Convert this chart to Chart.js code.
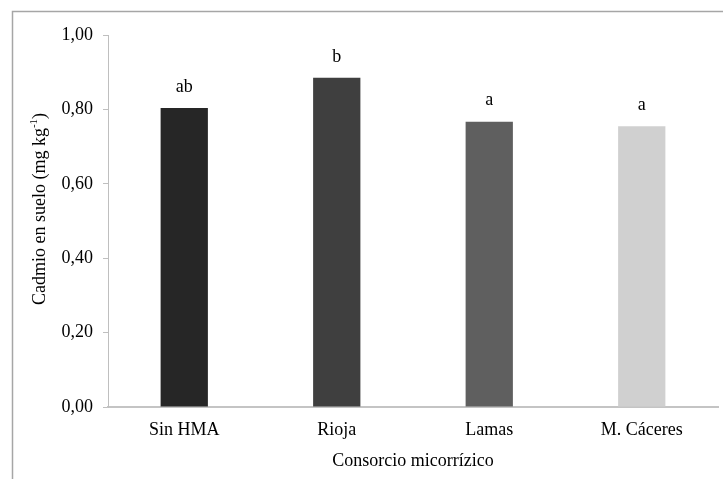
<!DOCTYPE html>
<html>
<head>
<meta charset="utf-8">
<script src="https://cdn.jsdelivr.net/npm/chart.js@4.4.1/dist/chart.umd.min.js"></script>
<style>
  html, body { margin: 0; padding: 0; background: #ffffff; }
  #wrap { width: 723px; height: 479px; position: relative; }
</style>
</head>
<body>
<div id="wrap"><canvas id="c" width="723" height="479"></canvas></div>
<script>
// Soil cadmium by mycorrhizal consortium
const categories = ['Sin HMA', 'Rioja', 'Lamas', 'M. Cáceres'];
const cadmium = [0.804, 0.885, 0.767, 0.755];
const letters = ['ab', 'b', 'a', 'a'];
const barColors = ['#262626', '#3f3f3f', '#5f5f5f', '#d0d0d0'];
const yTicks = [0, 0.2, 0.4, 0.6, 0.8, 1.0];
const yTitleParts = ['Cadmio en suelo (mg kg', '-1', ')'];

const serif = '"Liberation Serif", "Times New Roman", serif';

// Light gray frame around the figure
const framePlugin = {
  id: 'frame',
  beforeDraw(chart) {
    const ctx = chart.ctx;
    ctx.save();
    ctx.fillStyle = '#ffffff';
    ctx.fillRect(0, 0, chart.width, chart.height);
    ctx.strokeStyle = '#a6a6a6';
    ctx.lineWidth = 1.5;
    ctx.strokeRect(12.5, 11.5, 760, 520);
    ctx.restore();
  }
};

// Significance letters above each bar
const letterPlugin = {
  id: 'letters',
  afterDatasetsDraw(chart) {
    const ctx = chart.ctx;
    const meta = chart.getDatasetMeta(0);
    ctx.save();
    ctx.fillStyle = '#000000';
    ctx.font = '18px ' + serif;
    ctx.textAlign = 'center';
    ctx.textBaseline = 'middle';
    meta.data.forEach((bar, i) => {
      ctx.fillText(letters[i], bar.x, bar.y - 21);
    });
    ctx.restore();
  }
};

// Rotated y-axis title with a superscript exponent
const yTitlePlugin = {
  id: 'yTitle',
  afterDraw(chart) {
    const ctx = chart.ctx;
    const area = chart.chartArea;
    const big = '18px ' + serif;
    const small = '11px ' + serif;
    ctx.save();
    ctx.font = big;
    const w0 = ctx.measureText(yTitleParts[0]).width;
    const w2 = ctx.measureText(yTitleParts[2]).width;
    ctx.font = small;
    const w1 = ctx.measureText(yTitleParts[1]).width;
    const total = w0 + w1 + w2;
    const cx = 40;
    const cy = (area.top + area.bottom) / 2 - 12;
    ctx.translate(cx, cy);
    ctx.rotate(-Math.PI / 2);
    ctx.fillStyle = '#000000';
    ctx.textBaseline = 'middle';
    ctx.textAlign = 'left';
    let x = -total / 2;
    ctx.font = big;
    ctx.fillText(yTitleParts[0], x, 0);
    x += w0;
    ctx.font = small;
    ctx.fillText(yTitleParts[1], x, -6);
    x += w1;
    ctx.font = big;
    ctx.fillText(yTitleParts[2], x, 0);
    ctx.restore();
  }
};

new Chart(document.getElementById('c'), {
  type: 'bar',
  data: {
    labels: categories,
    datasets: [{
      data: cadmium,
      backgroundColor: barColors,
      borderWidth: 0,
      categoryPercentage: 1.0,
      barPercentage: 0.31
    }]
  },
  options: {
    responsive: false,
    animation: false,
    devicePixelRatio: 1,
    layout: { padding: { top: 35, right: 5, bottom: 0, left: 0 } },
    plugins: { legend: { display: false }, tooltip: { enabled: false } },
    scales: {
      x: {
        grid: { display: true, drawOnChartArea: false, drawTicks: false, color: 'rgba(0,0,0,0)' },
        border: { display: true, color: '#c4c4c4', width: 2 },
        ticks: { color: '#000000', font: { family: serif, size: 18 }, padding: 12 },
        title: {
          display: true,
          text: 'Consorcio micorrízico',
          color: '#000000',
          font: { family: serif, size: 18 },
          padding: { top: 0, bottom: 7 }
        },
        afterFit(scale) { scale.height = 72; }
      },
      y: {
        min: 0,
        max: 1,
        afterBuildTicks(scale) { scale.ticks = yTicks.map(v => ({ value: v })); },
        grid: { drawOnChartArea: false, drawTicks: true, tickLength: 5, color: '#bfbfbf' },
        border: { display: true, color: '#bfbfbf', width: 1 },
        ticks: {
          color: '#000000',
          font: { family: serif, size: 18 },
          padding: 10,
          callback: (v) => Number(v).toFixed(2).replace('.', ',')
        },
        afterFit(scale) { scale.width = 108; }
      }
    }
  },
  plugins: [framePlugin, letterPlugin, yTitlePlugin]
});
</script>
</body>
</html>
